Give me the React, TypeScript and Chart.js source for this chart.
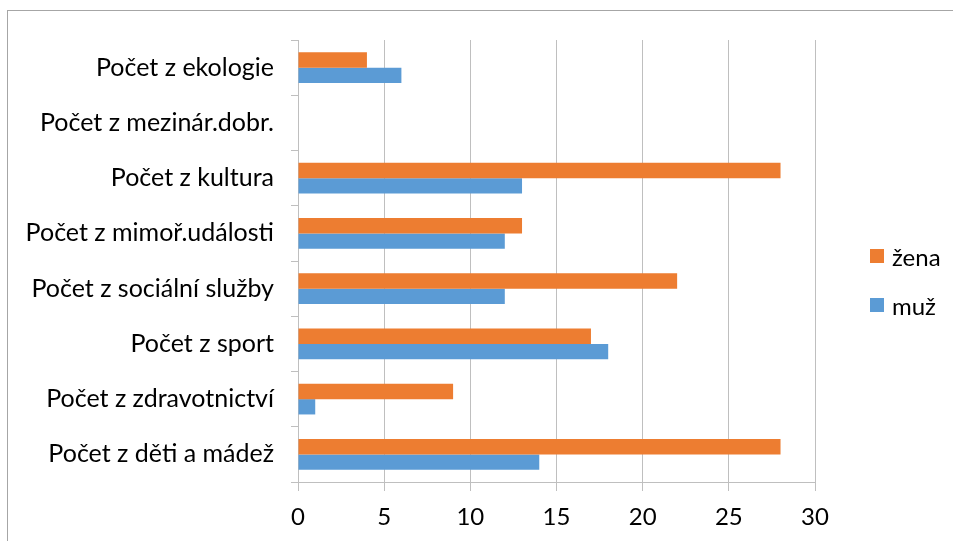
import React, { useEffect, useRef } from "react";
import { Chart, registerables } from "chart.js";

Chart.register(...registerables);

const categories = [
  "Počet z ekologie",
  "Počet z mezinár.dobr.",
  "Počet z kultura",
  "Počet z mimoř.události",
  "Počet z sociální služby",
  "Počet z sport",
  "Počet z zdravotnictví",
  "Počet z děti a mádež",
];
const zenaValues = [4, 0, 28, 13, 22, 17, 9, 28];
const muzValues = [6, 0, 13, 12, 12, 18, 1, 14];
const seriesNames = ["žena", "muž"];
const seriesColors = ["#ED7D31", "#5B9BD5"];
const xTicks = [0, 5, 10, 15, 20, 25, 30];

const FONT = "Lato, 'Open Sans', sans-serif";

export default function App() {
  const ref = useRef<HTMLCanvasElement | null>(null);

  useEffect(() => {
    if (!ref.current) return;
    const chart = new Chart(ref.current, {
      type: "bar",
      data: {
        labels: categories,
        datasets: [
          {
            label: seriesNames[0],
            data: zenaValues,
            backgroundColor: seriesColors[0],
            categoryPercentage: 0.555,
            barPercentage: 1,
          },
          {
            label: seriesNames[1],
            data: muzValues,
            backgroundColor: seriesColors[1],
            categoryPercentage: 0.555,
            barPercentage: 1,
          },
        ],
      },
      options: {
        indexAxis: "y",
        responsive: false,
        animation: false,
        devicePixelRatio: 1,
        layout: { padding: { left: 0, right: 138, top: 40, bottom: 0 } },
        plugins: { legend: { display: false }, tooltip: { enabled: false } },
        scales: {
          y: {
            type: "category",
            afterFit: (s: any) => {
              s.width = 298;
            },
            grid: {
              drawOnChartArea: false,
              drawTicks: true,
              tickLength: 7,
              color: "#bfbfbf",
              offset: true,
            },
            border: { display: true, color: "#bfbfbf" },
            ticks: {
              color: "#000",
              font: { family: FONT, size: 25 },
              padding: 17,
            },
          },
          x: {
            min: xTicks[0],
            max: xTicks[xTicks.length - 1],
            afterFit: (s: any) => {
              s.height = 59;
            },
            afterBuildTicks: (s: any) => {
              s.ticks = xTicks.map((v) => ({ value: v }));
            },
            grid: { color: "#bfbfbf", tickLength: 9 },
            border: { display: true, color: "#bfbfbf" },
            ticks: {
              color: "#000",
              font: { family: FONT, size: 24 },
              padding: 12,
            },
          },
        },
      },
    });
    return () => chart.destroy();
  }, []);

  return (
    <div
      style={{
        position: "absolute",
        left: 0,
        top: 0,
        width: 953,
        height: 541,
        overflow: "hidden",
        background: "#fff",
      }}
    >
      <div
        style={{
          position: "absolute",
          left: 7,
          top: 10,
          width: 1000,
          height: 600,
          border: "1px solid #a6a6a6",
        }}
      />
      <canvas
        ref={ref}
        width={953}
        height={541}
        style={{ position: "absolute", left: 0, top: 0, width: 953, height: 541 }}
      />
      {seriesNames.map((name, i) => (
        <div
          key={name}
          style={{
            position: "absolute",
            left: 870,
            top: 242 + i * 49,
            height: 28,
            display: "flex",
            alignItems: "center",
            fontFamily: FONT,
            fontSize: 24,
            color: "#000",
          }}
        >
          <span
            style={{
              display: "inline-block",
              width: 14,
              height: 14,
              background: seriesColors[i],
              marginRight: 8,
            }}
          />
          <span>{name}</span>
        </div>
      ))}
    </div>
  );
}
